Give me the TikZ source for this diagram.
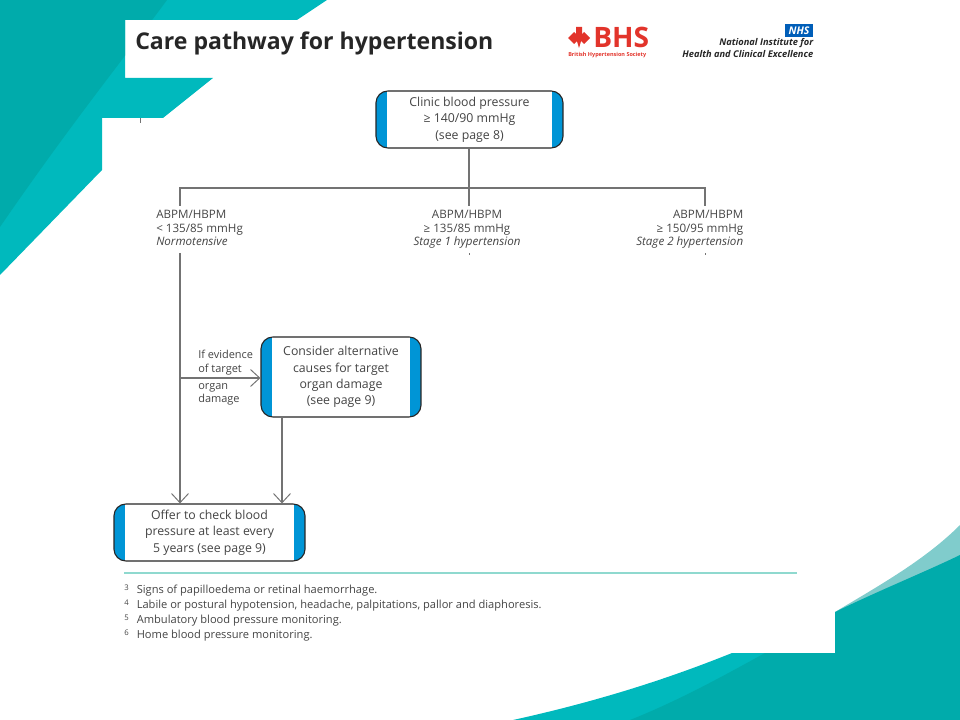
\documentclass[tikz,border=0pt]{standalone}
\usepackage{fontspec}
\setmainfont{Open Sans}
\usetikzlibrary{arrows.meta}
\definecolor{tealdark}{HTML}{00ABAB}
\definecolor{teallight}{HTML}{00B9BD}
\definecolor{tealpale}{HTML}{80CCCC}
\definecolor{tealrule}{HTML}{8FD9CF}
\definecolor{stripe}{HTML}{0095D6}
\definecolor{ink}{HTML}{444444}
\definecolor{bhsred}{HTML}{E2342B}
\definecolor{nhsblue}{HTML}{005EB8}
\tikzset{
	carebox/.style={draw=black!85, line width=.8pt, fill=white, rounded corners=8.5pt, align=center, text=ink, font=\fontsize{8.75}{11.6}\selectfont,
		path picture={
			\fill[stripe, sharp corners] (path picture bounding box.south west) rectangle ([xshift=7.9pt]path picture bounding box.north west);
			\fill[stripe, sharp corners] (path picture bounding box.south east) rectangle ([xshift=-7.9pt]path picture bounding box.north east);
		}},
	result/.style={inner sep=0pt, text=ink, font=\fontsize{8.25}{9.7}\selectfont},
	note/.style={inner sep=0pt, anchor=base west, text=ink, font=\fontsize{7.9}{9.6}\selectfont},
	link/.style={draw=black!55, line width=.8pt},
	flow/.style={link, -{Straight Barb[length=6.5pt, width=12pt, line width=.7pt]}}
}
\begin{document}
\begin{tikzpicture}[x=.025cm, y=-.025cm]
	\useasboundingbox (0,0) rectangle (960,720);

	% top left corner
	\begin{scope}
		\clip (0,0) -- (327,0) -- (297,20) -- (125,20) -- (125,78) -- (213,78) -- (163,118) -- (102,118) -- (102,170) -- (0,275) -- cycle;
		\fill[teallight] (0,0) rectangle (330,280);
		\fill[tealdark] (0,0) -- (167,0) .. controls (125,57) and (70,125) .. (0,227) -- cycle;
	\end{scope}

	% bottom right corner
	\fill[tealpale] (835,612) .. controls (880,585) and (925,560) .. (960,525) -- (960,560) -- cycle;
	\fill[teallight] (513,720) .. controls (590,703) and (660,682) .. (732,653) -- (800,653) -- (800,720) -- cycle;
	\fill[tealdark] (630,720) .. controls (680,700) and (725,675) .. (765,653) -- (835,653) -- (835,612) .. controls (880,590) and (925,572) .. (960,555) -- (960,720) -- cycle;

	% heading and logos
	\node[anchor=base west, inner sep=0pt, text=black!85, font=\fontsize{16.4}{20}\selectfont\bfseries] (title) at (135,50) {Care pathway for hypertension};

	\fill[bhsred] (568,38) -- (574,32) -- (580,38) -- (574,44) -- cycle;
	\fill[bhsred] (578,38) -- (584,32) -- (590,38) -- (584,44) -- cycle;
	\fill[bhsred] (576,27) -- (582,27) -- (582,38) -- (579,48) -- (576,38) -- cycle;
	\node[anchor=base west, inner sep=0pt, text height=14pt, text depth=0pt, text=bhsred, font=\fontsize{20}{22}\selectfont\bfseries] (bhs) at (593,47.5) {BHS};
	\node[anchor=base west, inner sep=0pt, text height=2.5pt, text depth=0pt, text=bhsred, font=\fontsize{3.9}{4}\selectfont\bfseries] (society) at (568,57) {British Hypertension Society};

	\node[fill=nhsblue, text=white, inner sep=0pt, minimum width=.7cm, minimum height=.31cm, font=\fontsize{7.5}{8}\selectfont\bfseries\itshape] (nhs) at (799,30.5) {NHS};
	\node[anchor=north east, inner sep=0pt, align=right, text=black!85, font=\fontsize{6.6}{8.3}\selectfont\bfseries\itshape] (nice) at (813.5,38) {National Institute for\\Health and Clinical Excellence};

	% boxes
	\node[carebox, minimum width=4.675cm, minimum height=1.425cm] (clinic) at (469.5,119.5) {Clinic blood pressure\\≥ 140/90 mmHg\\(see page 8)};
	\node[carebox, minimum width=4cm, minimum height=2cm] (consider) at (341,377) {Consider alternative\\causes for target\\organ damage\\(see page 9)};
	\node[carebox, minimum width=4.775cm, minimum height=1.425cm] (offer) at (209.5,532.5) {Offer to check blood\\pressure at least every\\5 years (see page 9)};

	% results
	\node[result, anchor=north west, align=left] (normo) at (156,210) {ABPM/HBPM\\< 135/85 mmHg\\\textit{Normotensive}};
	\node[result, anchor=north, align=center] (stage1) at (467,210) {ABPM/HBPM\\≥ 135/85 mmHg\\\textit{Stage 1 hypertension}};
	\node[result, anchor=north east, align=right] (stage2) at (743.5,210) {ABPM/HBPM\\≥ 150/95 mmHg\\\textit{Stage 2 hypertension}};

	% connectors
	\coordinate (fork) at (469,188);
	\coordinate (left) at (180,188);
	\coordinate (right) at (705,188);
	\coordinate (split) at (180,378);
	\coordinate (down) at (180,253);
	\coordinate (side) at (282,417);
	\draw[link] (clinic.south -| fork) -- (fork) -- (469,206);
	\draw[link] (180,206) -- (left) -- (right) -- (705,206);
	\draw[flow] (down) -- (down |- offer.north);
	\draw[flow] (split) -- (split -| consider.west);
	\draw[flow] (side) -- (side |- offer.north);
	\foreach \x in {469,705} {
		\draw[link, line width=.5pt] (\x,253.5) -- (\x,255);
	}
	\draw[link, line width=.5pt] (140,118) -- (140,123);

	\node[result, anchor=south west, align=left, font=\fontsize{7.8}{9.6}\selectfont] (above) at (198,375) {If evidence\\of target};
	\node[result, anchor=north west, align=left, font=\fontsize{7.8}{9.6}\selectfont] (below) at (198,383) {organ\\damage};

	% footnotes
	\draw[tealrule, line width=1.3pt] (124,573) -- (797,573);
	\foreach \n/\y/\t in {3/593/Signs of papilloedema or retinal haemorrhage.,
		4/608/{Labile or postural hypotension, headache, palpitations, pallor and diaphoresis.},
		5/623/Ambulatory blood pressure monitoring.,
		6/638/Home blood pressure monitoring.} {
		\node[note, font=\fontsize{5.5}{6}\selectfont] (mark-\n) at (124,\y-3) {\n};
		\node[note] (text-\n) at (136.5,\y) {\t};
	}
\end{tikzpicture}
\end{document}
